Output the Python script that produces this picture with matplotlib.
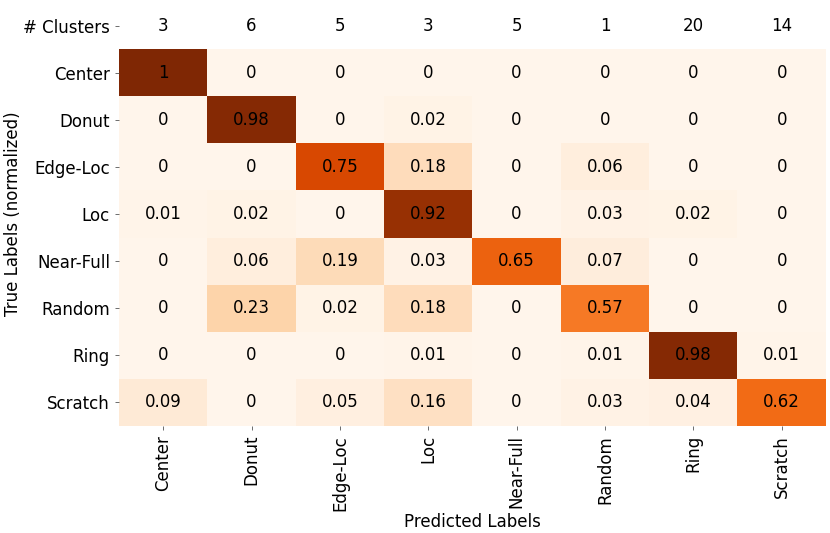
import numpy as np
import matplotlib.pyplot as plt

plt.rcParams['font.family'] = ['DejaVu Sans']

# Data
classes = ["Center", "Donut", "Edge-Loc", "Loc", "Near-Full", "Random", "Ring", "Scratch"]
n_clusters = [3, 6, 5, 3, 5, 1, 20, 14]
conf = np.array([
    [1.00, 0.00, 0.00, 0.00, 0.00, 0.00, 0.00, 0.00],
    [0.00, 0.98, 0.00, 0.02, 0.00, 0.00, 0.00, 0.00],
    [0.00, 0.00, 0.75, 0.18, 0.00, 0.06, 0.00, 0.00],
    [0.01, 0.02, 0.00, 0.92, 0.00, 0.03, 0.02, 0.00],
    [0.00, 0.06, 0.19, 0.03, 0.65, 0.07, 0.00, 0.00],
    [0.00, 0.23, 0.02, 0.18, 0.00, 0.57, 0.00, 0.00],
    [0.00, 0.00, 0.00, 0.01, 0.00, 0.01, 0.98, 0.01],
    [0.09, 0.00, 0.05, 0.16, 0.00, 0.03, 0.04, 0.62],
])

def fmt(v):
    s = f"{v:.2f}".rstrip("0").rstrip(".")
    return s

# top row holds the cluster counts (left blank in the colour map)
grid = np.vstack([np.full((1, len(classes)), np.nan), conf])
grid = np.ma.masked_invalid(grid)
row_labels = ["# Clusters"] + classes

fs = 12
fig = plt.figure(figsize=(8.3, 5.33), dpi=100)
ax = fig.add_axes([0.1434, 0.201, 0.8516, 0.795])

ax.pcolormesh(grid, cmap="Oranges", vmin=0, vmax=1)
ax.set_xlim(0, len(classes))
ax.set_ylim(len(row_labels), 0)

for j, c in enumerate(n_clusters):
    ax.text(j + 0.5, 0.5, str(c), ha="center", va="center", fontsize=fs, color="black")
for i in range(conf.shape[0]):
    for j in range(conf.shape[1]):
        ax.text(j + 0.5, i + 1.5, fmt(conf[i, j]), ha="center", va="center",
                fontsize=fs, color="black")

ax.set_xticks(np.arange(len(classes)) + 0.5)
ax.set_xticklabels(classes, rotation=90, fontsize=fs)
ax.set_yticks(np.arange(len(row_labels)) + 0.5)
ax.set_yticklabels(row_labels, fontsize=fs)
ax.tick_params(length=3, width=0.6, color="#555555")
for s in ax.spines.values():
    s.set_visible(False)

ax.set_xlabel("Predicted Labels", fontsize=fs, labelpad=2)
ax.set_ylabel("True Labels (normalized)", fontsize=fs, labelpad=1)

fig.savefig("out.png", dpi=100)
